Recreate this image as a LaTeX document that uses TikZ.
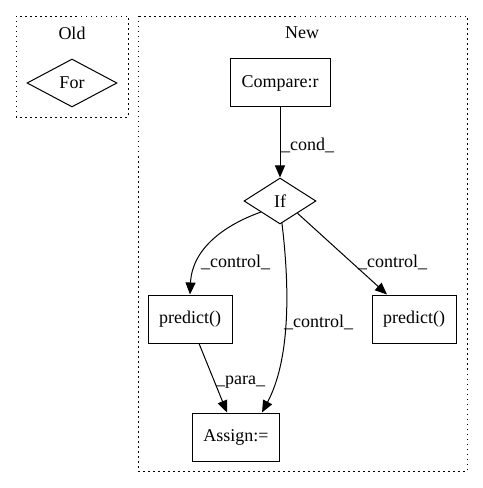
\documentclass[tikz,border=0pt]{standalone}
\usepackage{fontspec}
\setmainfont{Liberation Serif}
\usetikzlibrary{arrows.meta,shapes.geometric}
\begin{document}
\begin{tikzpicture}[x=1bp,y=-1bp,
  every node/.style={font=\fontsize{18bp}{20bp}\selectfont, inner sep=0pt},
  box/.style={draw, line width=1bp, minimum width=#1, minimum height=48bp},
  dia/.style={draw, line width=1bp, diamond, aspect=1.9, minimum width=#1},
  cluster/.style={draw, line width=0.9bp, dash pattern=on 1.5bp off 3.5bp},
  edge/.style={draw, line width=1bp, -{Triangle[length=12bp,width=10bp]}},
  lbl/.style={anchor=west}
]
\useasboundingbox (0,0) rectangle (483,488);
% clusters
\draw[cluster] (16,16) rectangle (128,117);
\node (oldl) at (72,33) {Old};
\draw[cluster] (138,16) rectangle (467,471);
\node (newl) at (302,33) {New};
% nodes
\node[dia=90bp, minimum height=48bp] (for) at (72,83) {For};
\node[box=100bp] (cmp) at (280,83) {Compare:r};
\node[dia=72bp, minimum height=46bp] (if) at (280,201) {If};
\node[box=84bp] (p1) at (190,319) {predict()};
\node[box=84bp] (p2) at (414,319) {predict()};
\node[box=87bp] (asg) at (236,437) {Assign:=};
% edges
\draw[edge] (cmp.south) -- (if.north);
\node[lbl] (l1) at (281,145) {\_cond\_};
\draw[edge] (if.-150) .. controls (222,226) and (192,250) .. (p1.north);
\node[lbl] (l2) at (201,262) {\_control\_};
\draw[edge] (if.-85) .. controls (290,290) and (290,360) .. ([xshift=26bp]asg.north);
\node[lbl] (l3) at (284,322) {\_control\_};
\draw[edge] (if.-35) -- ([xshift=-27bp]p2.north);
\node[lbl] (l4) at (358,262) {\_control\_};
\draw[edge] ([xshift=9bp]p1.south) -- ([xshift=-9bp]asg.north);
\node[lbl] (l5) at (216,382) {\_para\_};
\end{tikzpicture}
\end{document}
